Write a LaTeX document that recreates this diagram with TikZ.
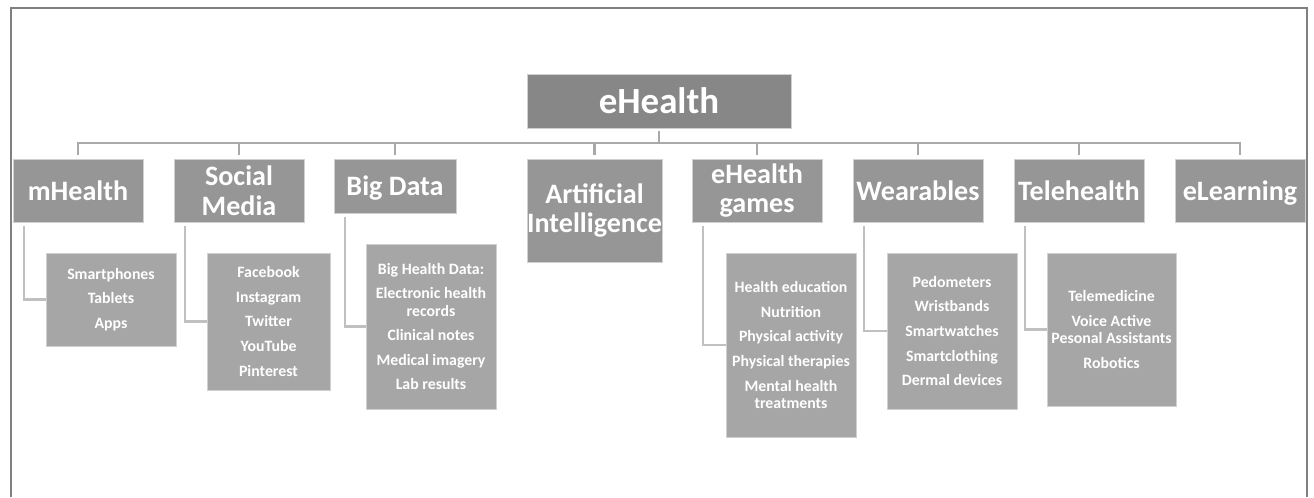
\documentclass[tikz,border=0pt]{standalone}
\usepackage{fontspec}
\setmainfont{Carlito}
\definecolor{topgray}{HTML}{878787}
\definecolor{midgray}{HTML}{969696}
\definecolor{leafgray}{HTML}{A6A6A6}
\definecolor{edgegray}{HTML}{D0D0D0}
\definecolor{busgray}{HTML}{A9A9A9}
\definecolor{linkgray}{HTML}{C0C0C0}
\definecolor{framegray}{HTML}{808080}
\newcommand{\nodepth}[1]{\raisebox{0pt}[\height][0pt]{#1}}

\begin{document}
\begin{tikzpicture}[x=0.02cm,y=-0.02cm]
\useasboundingbox (0,0) rectangle (1314,497);
\draw[framegray, line width=1.2pt] (11,497) |- (1307,8) -- (1307,497);

\node[rectangle, fill=topgray, draw=edgegray, text=white, inner sep=0pt,
      minimum width=5.28cm, minimum height=1.08cm,
      font=\fontsize{21}{23}\selectfont\bfseries] (eh) at (659,101) {eHealth};

\begin{scope}[every node/.style={rectangle,fill=midgray,draw=edgegray,text=white,
              inner sep=0pt,align=center,minimum width=2.6cm,minimum height=1.26cm,
              font=\fontsize{16}{17}\selectfont\bfseries}]
    \node (mh) at (78,190.5) {mHealth};
    \node (sm) at (239,190.5) {Social\\Media};
    \node[minimum width=2.44cm, minimum height=1.08cm] (bd) at (395,186) {\nodepth{Big Data}};
    \node[minimum width=2.7cm, minimum height=2.06cm] (ai) at (594.5,210.5) {Artificial\\Intelligence};
    \node (eg) at (757,190.5) {eHealth\\games};
    \node (we) at (918,190.5) {Wearables};
    \node (th) at (1079,190.5) {Telehealth};
    \node (el) at (1240,190.5) {\nodepth{eLearning}};
\end{scope}

\begin{scope}[every node/.style={rectangle,fill=leafgray,draw=edgegray,text=white,
              inner sep=0pt,align=center,minimum width=2.6cm,
              font=\fontsize{9}{9.8}\selectfont\bfseries}]
    \node[minimum height=1.86cm] (mhc) at (111,299.5)
        {Smartphones\\[4.2pt] Tablets\\[4.2pt] Apps};
    \node[minimum width=2.46cm, minimum height=2.74cm] (smc) at (268.5,321.5)
        {Facebook\\[4.2pt] Instagram\\[4.2pt] Twitter\\[4.2pt] YouTube\\[4.2pt] Pinterest};
    \node[minimum height=3.3cm] (bdc) at (431,326.5)
        {Big Health Data:\\[4.2pt] Electronic health\\ records\\[4.2pt] Clinical notes\\[4.2pt] Medical imagery\\[4.2pt] Lab results};
    \node[minimum height=3.68cm] (egc) at (791,345)
        {Health education\\[4.2pt] Nutrition\\[4.2pt] Physical activity\\[4.2pt] Physical therapies\\[4.2pt] Mental health\\ treatments};
    \node[minimum height=3.12cm] (wec) at (952,331)
        {Pedometers\\[4.2pt] Wristbands\\[4.2pt] Smartwatches\\[4.2pt] Smartclothing\\[4.2pt] Dermal devices};
    \node[minimum width=2.58cm, minimum height=3.06cm] (thc) at (1111.5,329.5)
        {Telemedicine\\[4.2pt] Voice Active\\ Pesonal Assistants\\[4.2pt] Robotics};
\end{scope}

\begin{scope}[bus/.style={draw=busgray, line width=1.3pt, shorten <=0.06cm, shorten >=0.08cm},
              link/.style={draw=linkgray, line width=1.3pt}]
    \foreach \c in {mh,sm,bd,ai,eg,we,th,el}
        \draw[bus] (eh.south) -- ++(0,15) -| (\c.north);
    \foreach \p/\c in {mh/mhc,sm/smc,bd/bdc,eg/egc,we/wec,th/thc}
        \draw[link] ([xshift=0.23cm,yshift=-0.08cm]\p.south west) |- (\c.west);
\end{scope}
\end{tikzpicture}
\end{document}
